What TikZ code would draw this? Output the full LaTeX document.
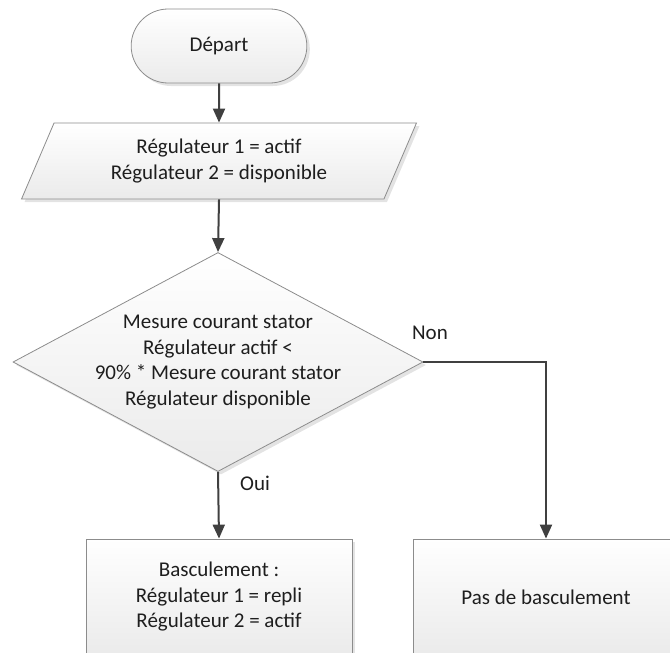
\documentclass[tikz,border=0pt]{standalone}
\usepackage{fontspec}
\setmainfont{Carlito}
\usetikzlibrary{shapes.geometric}
\usetikzlibrary{shapes.misc}
\usetikzlibrary{arrows.meta}
\usetikzlibrary{shadows}
\definecolor{linegray}{HTML}{404040}
\definecolor{bordergray}{HTML}{8C8C8C}
\definecolor{textgray}{HTML}{1E1E1E}
\tikzset{
	block/.style={draw=bordergray, line width=0.4pt, top color=white, bottom color=black!8,
		drop shadow={shadow xshift=1.5pt, shadow yshift=-1.5pt, fill=black!18, opacity=.6},
		align=center, text=textgray, font=\fontsize{10.5}{12.75}\selectfont},
	terminal/.style={block, rounded rectangle, minimum width=94.5pt, minimum height=37pt},
	io/.style={block, trapezium, trapezium stretches=true, trapezium left angle=64, trapezium right angle=116,
		minimum width=197.5pt, minimum height=38pt, inner sep=0pt},
	decision/.style={block, diamond, inner sep=-22pt, minimum width=205pt, minimum height=109.5pt},
	process/.style={block, rectangle, minimum width=133pt, minimum height=58pt},
	flow/.style={draw=linegray, line width=1pt, -{Triangle[length=7pt,width=6pt]}},
	answer/.style={text=textgray, font=\fontsize{10.5}{12.75}\selectfont}
}

\begin{document}
\begin{tikzpicture}[x=0.5pt, y=-0.5pt]

	% Page frame
	\useasboundingbox (0,0) rectangle (670,653);
	\clip (0,0) rectangle (670,653);

	% Drawing the steps
	\node [terminal] (start) at (219,46) {Départ};
	\node [io] (init) at (219,161) {Régulateur 1 = actif\\Régulateur 2 = disponible};
	\node [decision] (test) at (218,362) {Mesure courant stator\\Régulateur actif <\\90\% * Mesure courant stator\\Régulateur disponible};
	\node [process] (switch) at (219,597) {Basculement :\\Régulateur 1 = repli\\Régulateur 2 = actif};
	\node [process] (keep) at (546,597) {Pas de basculement};

	% Drawing the connectors
	\draw [flow] (start.south) -- (init.north);
	\draw [flow] (init.south) -- (test.north);
	\draw [flow] (test.south) -- (switch.north);
	\draw [flow] (test.east) -| (keep.north);

	% Labeling the branches
	\node [answer] (yes) at (255,483) {Oui};
	\node [answer] (no) at (430,333) {Non};

\end{tikzpicture}
\end{document}
